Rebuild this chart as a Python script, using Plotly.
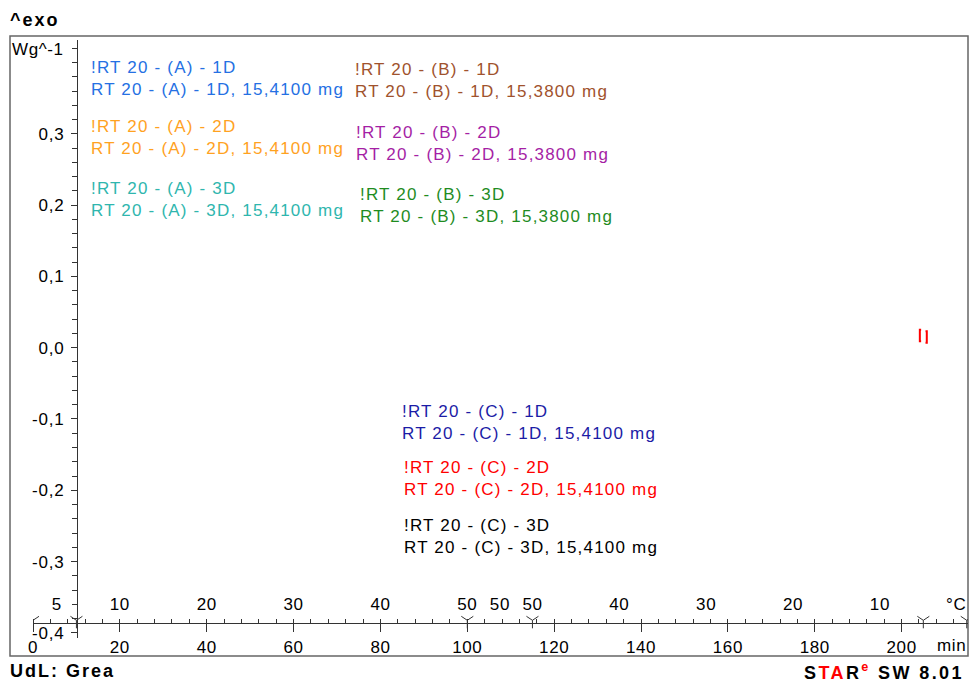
import plotly.graph_objects as go

# ---------------- data ----------------
samples = ["A", "A", "A", "B", "B", "B", "C", "C", "C"]
runs = ["1D", "2D", "3D", "1D", "2D", "3D", "1D", "2D", "3D"]
masses = ["15,4100", "15,4100", "15,4100", "15,3800", "15,3800", "15,3800",
          "15,4100", "15,4100", "15,4100"]
label_colors = ["#2570E3", "#FFA21F", "#2FB6AE", "#A0522D", "#A51FA5", "#1F8C1F",
                "#1C1CA6", "#FF0000", "#000000"]
# label anchor positions (pixel, left / middle)
label_px_x = [89, 89, 89, 353, 354, 358, 400, 402, 402]
label_px_y = [79, 137, 199, 81, 143.5, 205, 422.5, 478, 536.5]

minute_ticks = [0, 20, 40, 60, 80, 100, 120, 140, 160, 180, 200]
y_ticks = [-0.4, -0.3, -0.2, -0.1, 0.0, 0.1, 0.2, 0.3]

temp_tick_min = [5.5, 20, 40, 60, 80, 100, 107.5, 115, 135, 155, 175, 195]
temp_tick_text = ["5", "10", "20", "30", "40", "50", "50", "50", "40", "30", "20", "10"]
segment_bounds = [0, 10, 100, 115, 205, 215]

# small red curve fragment near the end
red_x1 = [204.5, 204.2, 204.2, 204.5]
red_y1 = [0.025, 0.025, 0.009, 0.009]
red_x2 = [205.5, 205.8, 205.8, 205.5]
red_y2 = [0.023, 0.023, 0.007, 0.007]

# ---------------- layout geometry ----------------
W, H = 971, 681
L, R, T, B = 33, 3, 40, 43
PW, PH = W - L - R, H - T - B
X_MAX = PW / 4.343
Y_MIN, Y_MAX = -0.4072, 0.4316


def px(x):
    return (x - L) / PW


def py(y):
    return (H - B - y) / PH


XAXIS_POS = py(623.3)
YAXIS_POS = px(77)
y_mark = Y_MIN + (XAXIS_POS * (Y_MAX - Y_MIN)) + 3 / PH * (Y_MAX - Y_MIN)

TXT = "Liberation Sans"
AXC = "#333333"


def spaced(s, sp, color=None):
    col = f"color:{color};" if color else ""
    return f"<span style='{col}letter-spacing:{sp}px'>{s}</span>"


minute_text = [spaced(str(v), 0.6) for v in minute_ticks]
y_tick_text = [spaced(f"{v:.1f}".replace(".", ","), 0.8) for v in y_ticks]
temp_text = [spaced(t, 0.6) for t in temp_tick_text]

fig = go.Figure()

fig.add_trace(go.Scatter(x=red_x1, y=red_y1, mode="lines",
                         line=dict(color="#FF0000", width=2), showlegend=False, hoverinfo="skip"))
fig.add_trace(go.Scatter(x=red_x2, y=red_y2, mode="lines",
                         line=dict(color="#FF0000", width=2), showlegend=False, hoverinfo="skip"))
fig.add_trace(go.Scatter(x=segment_bounds, y=[y_mark] * len(segment_bounds), mode="markers",
                         marker=dict(symbol="y-down-open", size=10, color=AXC,
                                     line=dict(color=AXC, width=1)),
                         showlegend=False, hoverinfo="skip"))
# invisible trace for the temperature axis
fig.add_trace(go.Scatter(x=[0, X_MAX], y=[0, 0], xaxis="x2", mode="markers",
                         marker=dict(opacity=0), showlegend=False, hoverinfo="skip"))

tickfont = dict(family=TXT, size=17, color="#000000")
fig.update_layout(
    width=W, height=H,
    margin=dict(l=L, r=R, t=T, b=B),
    paper_bgcolor="white", plot_bgcolor="white",
    separators=", ",
    font=dict(family=TXT, size=17, color="#000000"),
    showlegend=False,
    xaxis=dict(range=[0, X_MAX], anchor="free", position=XAXIS_POS,
               showline=True, linecolor=AXC, linewidth=1,
               showgrid=False, zeroline=False,
               tickvals=minute_ticks, ticktext=minute_text,
               ticks="outside", ticklen=8, tickcolor=AXC,
               ticklabelstandoff=0,
               minor=dict(dtick=4, tick0=0, ticks="inside", ticklen=4, tickcolor=AXC),
               tickfont=tickfont),
    xaxis2=dict(range=[0, X_MAX], overlaying="x", anchor="free", position=XAXIS_POS,
                side="top", showline=False, showgrid=False, zeroline=False,
                tickvals=temp_tick_min, ticktext=temp_text,
                ticks="outside", ticklen=7, tickcolor="rgba(0,0,0,0)",
                tickfont=tickfont),
    yaxis=dict(range=[Y_MIN, Y_MAX], anchor="free", position=YAXIS_POS,
               showline=True, linecolor=AXC, linewidth=1,
               showgrid=False, zeroline=False,
               tickvals=y_ticks, ticktext=y_tick_text,
               ticks="outside", ticklen=6, tickcolor=AXC, ticklabelstandoff=3,
               minor=dict(dtick=0.02, tick0=0, ticks="outside", ticklen=5, tickcolor=AXC),
               tickfont=tickfont),
)

# frame
fig.add_shape(type="rect", xref="paper", yref="paper",
              x0=px(10), x1=px(968), y0=py(656), y1=py(36),
              line=dict(color="#666666", width=1.5), layer="below")

ann = []
for s, r, m, c, ax, ay in zip(samples, runs, masses, label_colors, label_px_x, label_px_y):
    l1 = spaced(f"!RT 20 - ({s}) - {r}", 1.2)
    l2 = spaced(f"RT 20 - ({s}) - {r}, {m} mg", 1.2)
    ann.append(dict(text=f"{l1}<br>{l2}",
                    x=px(ax), y=py(ay), xref="paper", yref="paper",
                    xanchor="left", yanchor="middle", align="left", showarrow=False,
                    font=dict(family=TXT, size=17, color=c)))

star_text = ("<b>" + spaced("S", 2.4) + spaced("TA", 2.4, "#FF0000") + spaced("R", 2.4)
             + "<sup>" + spaced("e", 2.4, "#FF0000") + "</sup>"
             + spaced(" SW 8.01", 2.4) + "</b>")

ann += [
    dict(text="<b>" + spaced("^exo", 2) + "</b>", x=px(8), y=py(20), xanchor="left",
         yanchor="middle", font=dict(family=TXT, size=18, color="#000000")),
    dict(text=spaced("Wg^-1", 0.6), x=px(66), y=py(50), xanchor="right", yanchor="middle",
         font=tickfont),
    dict(text=spaced("°C", 0.6), x=px(968), y=py(604), xanchor="right", yanchor="middle",
         font=tickfont),
    dict(text=spaced("min", 0.6), x=px(968), y=py(645), xanchor="right", yanchor="middle",
         font=tickfont),
    dict(text="<b>" + spaced("UdL: Grea", 2) + "</b>", x=px(8), y=py(671),
         xanchor="left", yanchor="middle", font=dict(family=TXT, size=18, color="#000000")),
    dict(text=star_text, x=px(966), y=py(671), xanchor="right", yanchor="middle",
         font=dict(family=TXT, size=18, color="#000000")),
]
for a in ann:
    a.setdefault("xref", "paper")
    a.setdefault("yref", "paper")
    a.setdefault("showarrow", False)
    a.setdefault("font", tickfont)
fig.update_layout(annotations=ann)

fig.write_html("out.html")
